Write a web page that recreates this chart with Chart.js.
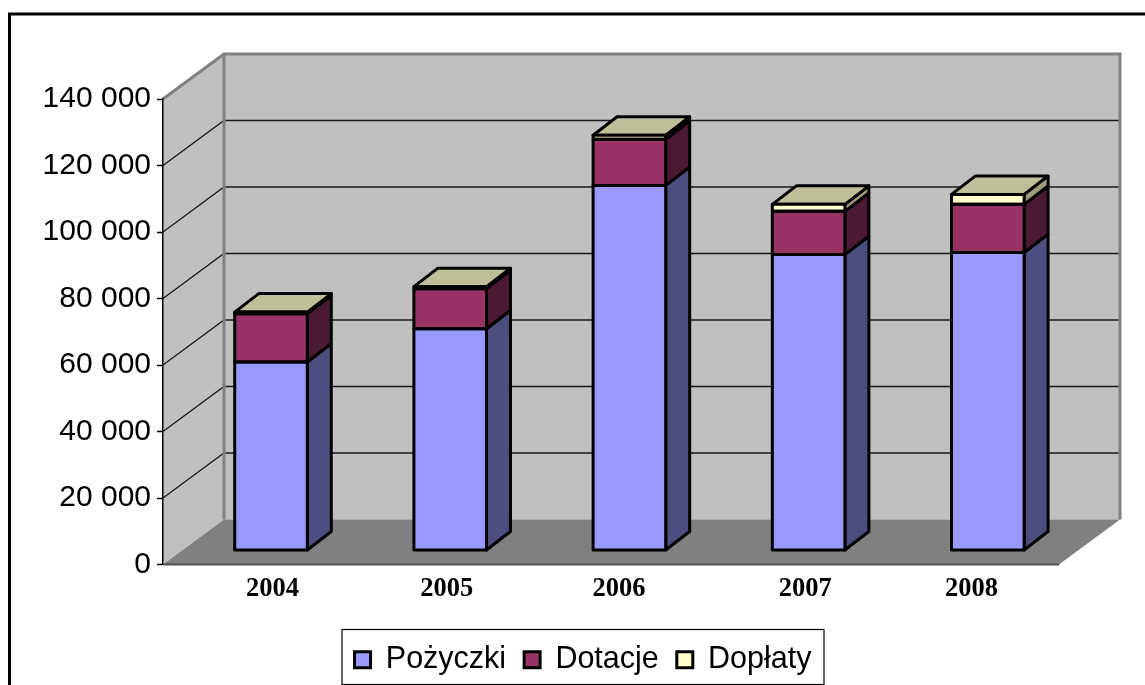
<!DOCTYPE html>
<html>
<head>
<meta charset="utf-8">
<style>
  html, body { margin: 0; padding: 0; background: #fff; overflow: hidden; }
  #wrap { width: 1145px; height: 685px; }
</style>
<script src="https://cdn.jsdelivr.net/npm/chart.js@4"></script>
</head>
<body>
<div id="wrap"><canvas id="chart" width="1145" height="685"></canvas></div>
<script>
const years = ['2004', '2005', '2006', '2007', '2008'];
const pozyczki = [56700, 66700, 109800, 89000, 89600];
const dotacje = [14500, 12050, 13900, 13000, 14500];
const doplaty = [500, 600, 1200, 2100, 3000];

// oblique depth of the box, as in the old 3D office charts
const wallDx = 61, wallDy = 45;
const barShiftX = 18.4, barShiftY = 14;
const barDx = 24, barDy = 18.5;
const labelNudge = [2, -3, -10, -3, -16];
const faceColors = ['#4D4D80', '#4C1933', '#9C9C7C'];
const topColor = '#BFBF99';

function spaced(v) {
  return String(v).replace(/\B(?=(\d{3})+$)/g, ' ');
}

const box3d = {
  id: 'box3d',
  afterLayout(chart) {
    // move the legend and the year labels to where the reference has them
    chart.legend.left += 53.5;
    chart.legend.right += 53.5;
    chart.scales.x.getLabelItems().forEach((item, i) => {
      item.options.translation[0] += labelNudge[i] + 18;
    });
  },
  beforeDraw(chart) {
    const { ctx, chartArea: a, scales: { y } } = chart;
    const l = a.left, r = a.right, t = a.top, b = a.bottom;
    ctx.save();
    // frame
    ctx.strokeStyle = '#000';
    ctx.lineWidth = 3;
    ctx.strokeRect(9.5, 14, 1400, 1400);
    // back wall and left wall
    ctx.fillStyle = '#C0C0C0';
    ctx.fillRect(l + wallDx, t - wallDy, r - l, b - t);
    ctx.beginPath();
    ctx.moveTo(l, t); ctx.lineTo(l + wallDx, t - wallDy);
    ctx.lineTo(l + wallDx, b - wallDy); ctx.lineTo(l, b);
    ctx.closePath(); ctx.fill();
    // floor
    ctx.fillStyle = '#808080';
    ctx.beginPath();
    ctx.moveTo(l, b); ctx.lineTo(l + wallDx, b - wallDy);
    ctx.lineTo(r + wallDx, b - wallDy); ctx.lineTo(r, b);
    ctx.closePath(); ctx.fill();
    // grid on both walls
    ctx.strokeStyle = '#1a1a1a';
    ctx.lineWidth = 1.3;
    y.ticks.forEach(tick => {
      if (tick.value === 0 || tick.value === y.max) return;
      const py = y.getPixelForValue(tick.value);
      ctx.beginPath();
      ctx.moveTo(l, py); ctx.lineTo(l + wallDx, py - wallDy);
      ctx.lineTo(r + wallDx, py - wallDy);
      ctx.stroke();
    });
    // wall edges
    ctx.strokeStyle = '#808080';
    ctx.lineWidth = 3;
    ctx.beginPath();
    ctx.moveTo(l, t); ctx.lineTo(l + wallDx, t - wallDy);
    ctx.lineTo(r + wallDx, t - wallDy); ctx.lineTo(r + wallDx, b - wallDy);
    ctx.moveTo(l + wallDx, t - wallDy); ctx.lineTo(l + wallDx, b - wallDy);
    ctx.stroke();
    ctx.restore();
  },
  beforeDatasetsDraw(chart) {
    const { ctx } = chart;
    ctx.save();
    ctx.translate(barShiftX, -barShiftY);
    // side faces, drawn first so the fronts sit on top
    const metas = chart.getSortedVisibleDatasetMetas();
    ctx.lineJoin = 'round';
    ctx.lineWidth = 3;
    ctx.strokeStyle = '#000';
    metas.forEach((meta, ds) => {
      meta.data.forEach(bar => {
        const right = bar.x + bar.width / 2;
        ctx.fillStyle = faceColors[ds];
        ctx.beginPath();
        ctx.moveTo(right, bar.base); ctx.lineTo(right + barDx, bar.base - barDy);
        ctx.lineTo(right + barDx, bar.y - barDy); ctx.lineTo(right, bar.y);
        ctx.closePath(); ctx.fill(); ctx.stroke();
      });
    });
    // top face on the last series
    metas[metas.length - 1].data.forEach(bar => {
      const left = bar.x - bar.width / 2, right = bar.x + bar.width / 2;
      ctx.fillStyle = topColor;
      ctx.beginPath();
      ctx.moveTo(left, bar.y); ctx.lineTo(left + barDx, bar.y - barDy);
      ctx.lineTo(right + barDx, bar.y - barDy); ctx.lineTo(right, bar.y);
      ctx.closePath(); ctx.fill(); ctx.stroke();
    });
  },
  afterDatasetsDraw(chart) {
    const { ctx } = chart;
    // outlines over the fronts, still in the shifted space
    chart.getSortedVisibleDatasetMetas().forEach(meta => {
      meta.data.forEach(bar => {
        ctx.strokeRect(bar.x - bar.width / 2, bar.y, bar.width, bar.base - bar.y);
      });
    });
    ctx.restore();
  },
  afterDraw(chart) {
    const { ctx, chartArea: a } = chart;
    ctx.save();
    // front edge of the floor
    ctx.strokeStyle = '#505050';
    ctx.lineWidth = 2;
    ctx.beginPath();
    ctx.moveTo(a.left, a.bottom); ctx.lineTo(a.right, a.bottom);
    ctx.stroke();
    // legend box
    ctx.strokeStyle = '#000';
    ctx.lineWidth = 1.2;
    ctx.strokeRect(342, 629.5, 482, 55);
    ctx.restore();
  }
};

new Chart(document.getElementById('chart'), {
  type: 'bar',
  data: {
    labels: years,
    datasets: [
      { label: 'Pożyczki', data: pozyczki, backgroundColor: '#9999FF' },
      { label: 'Dotacje', data: dotacje, backgroundColor: '#993366' },
      { label: 'Dopłaty', data: doplaty, backgroundColor: '#FFFFCC' }
    ]
  },
  plugins: [box3d],
  options: {
    responsive: false,
    animation: false,
    layout: { padding: { left: 0, right: 86, top: 99, bottom: 0 } },
    datasets: { bar: { categoryPercentage: 1, barPercentage: 0.405, borderWidth: 0 } },
    scales: {
      x: {
        stacked: true,
        afterFit(scale) { scale.height = 62; },
        border: { display: false },
        grid: { display: false },
        ticks: {
          color: '#000',
          padding: 1,
          maxRotation: 0,
          font: { family: '"Liberation Serif"', size: 26.5, weight: 'bold' }
        }
      },
      y: {
        stacked: true,
        min: 0,
        max: 140000,
        afterFit(scale) { scale.width = 163; },
        border: { display: true, color: '#000', width: 1.5 },
        grid: { drawOnChartArea: false, tickLength: 6, tickColor: '#000', tickWidth: 1.5 },
        ticks: {
          stepSize: 20000,
          color: '#000',
          padding: 6,
          callback: v => spaced(v),
          font: { family: '"Liberation Sans"', size: 30 }
        }
      }
    },
    plugins: {
      tooltip: { enabled: false },
      legend: {
        position: 'bottom',
        labels: {
          color: '#000',
          boxWidth: 16,
          boxHeight: 16,
          padding: 18,
          font: { family: '"Liberation Sans"', size: 30.5 },
          generateLabels(chart) {
            return chart.data.datasets.map((ds, i) => ({
              text: ds.label,
              fillStyle: ds.backgroundColor,
              strokeStyle: '#000',
              lineWidth: 3,
              datasetIndex: i
            }));
          }
        }
      }
    }
  }
});
</script>
</body>
</html>
